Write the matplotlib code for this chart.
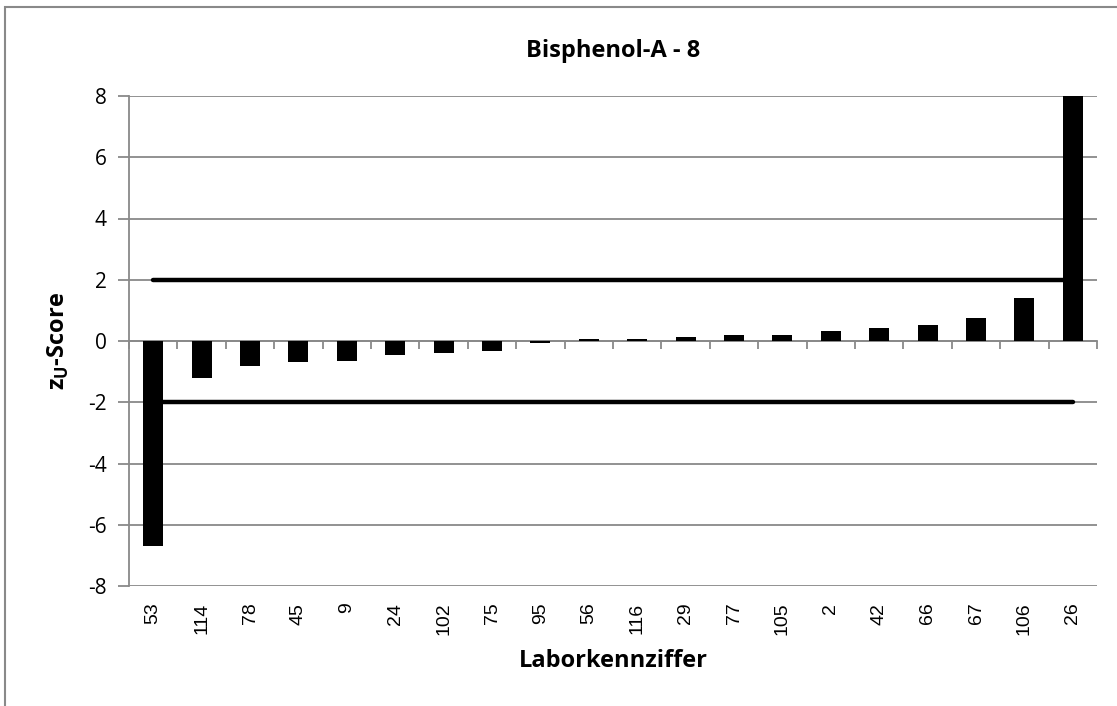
import matplotlib.pyplot as plt
import numpy as np
from matplotlib.patches import Rectangle

# Daten
labs = ['53', '114', '78', '45', '9', '24', '102', '75', '95', '56',
        '116', '29', '77', '105', '2', '42', '66', '67', '106', '26']
zu_scores = [-6.7, -1.2, -0.81, -0.70, -0.65, -0.45, -0.38, -0.33, -0.07, 0.08,
             0.07, 0.12, 0.18, 0.21, 0.33, 0.43, 0.52, 0.76, 1.4, 8.0]
upper_limit = 2
lower_limit = -2

plt.rcParams['font.family'] = ['Open Sans', 'DejaVu Sans']
plt.rcParams['axes.unicode_minus'] = False
grey = '#898989'

fig = plt.figure(figsize=(11.17, 7.06), dpi=100)
ax = fig.add_axes([129 / 1117, 1 - 586 / 706, (1097 - 129) / 1117, (586 - 96) / 706])

x = np.arange(len(labs))
ax.bar(x, zu_scores, width=0.41, color='black', zorder=3)
ax.plot([x[0], x[-1]], [upper_limit, upper_limit], color='black', lw=3.2,
        solid_capstyle='round', zorder=4)
ax.plot([x[0], x[-1]], [lower_limit, lower_limit], color='black', lw=3.2,
        solid_capstyle='round', zorder=4)

ax.set_xlim(-0.5, len(labs) - 0.5)
ax.set_ylim(-8, 8)
ax.set_yticks(np.arange(-8, 9, 2))
ax.yaxis.grid(True, color=grey, lw=1.3, zorder=0)
ax.set_axisbelow(True)

for s in ['top', 'right']:
    ax.spines[s].set_visible(False)
ax.spines['left'].set_color(grey)
ax.spines['left'].set_linewidth(1.3)
ax.spines['bottom'].set_position(('data', 0))
ax.spines['bottom'].set_color(grey)
ax.spines['bottom'].set_linewidth(1.3)
ax.spines['bottom'].set_zorder(2)

# Tickmarks an der Nulllinie zwischen den Kategorien
ax.set_xticks(np.arange(-0.5, len(labs), 1.0))
ax.tick_params(axis='x', length=6, width=1.3, color=grey, labelbottom=False)
ax.tick_params(axis='y', length=8, width=1.3, color=grey, labelsize=15, pad=8)

# Beschriftungen unten
sec = ax.secondary_xaxis(0.0)
sec.set_xticks(x)
sec.set_xticklabels(labs, rotation=90, fontsize=14, family=['Liberation Sans'])
sec.tick_params(length=0, pad=12)
sec.spines['bottom'].set_visible(False)

ax.set_title('Bisphenol-A - 8', fontsize=17, fontweight='bold', pad=28)
fig.text(613 / 1117, 1 - 661 / 706, 'Laborkennziffer', fontsize=17,
         fontweight='bold', ha='center', va='center')
fig.text(58 / 1117, 1 - 341 / 706, r'z$_\mathregular{U}$-Score', fontsize=17,
         fontweight='bold', ha='center', va='center', rotation=90)

# Rahmen des Diagrammbereichs
fig.patches.append(Rectangle((5 / 1117, -0.1), 1.2, 1 - 7 / 706 + 0.1,
                             transform=fig.transFigure, fill=False,
                             edgecolor=grey, lw=1.5))

fig.savefig('out.png', dpi=100)
